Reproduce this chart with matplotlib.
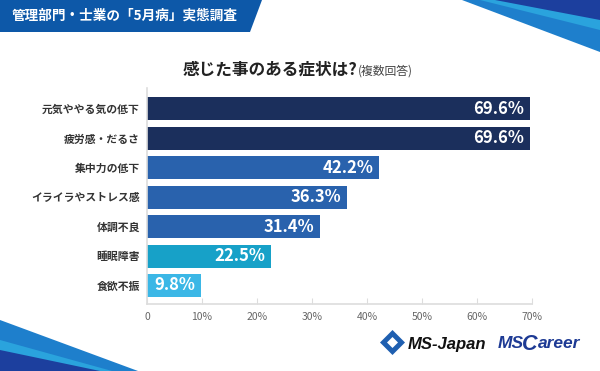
import matplotlib
matplotlib.use("Agg")
from matplotlib import pyplot as plt
from matplotlib.patches import Polygon

plt.rcParams['font.family'] = ['Noto Sans CJK JP', 'DejaVu Sans']

# data
symptoms = ['元気ややる気の低下', '疲労感・だるさ', '集中力の低下', 'イライラやストレス感',
            '体調不良', '睡眠障害', '食欲不振']
percent = [69.6, 69.6, 42.2, 36.3, 31.4, 22.5, 9.8]
bar_colors = ['#1b2f5c', '#1b2f5c', '#2962ad', '#2962ad', '#2962ad', '#17a1c8', '#3bb7e6']
xticks = [0, 10, 20, 30, 40, 50, 60, 70]
xtick_labels = ['0', '10%', '20%', '30%', '40%', '50%', '60%', '70%']

W, H = 600, 371
fig = plt.figure(figsize=(6, 3.71), dpi=100)
fig.patch.set_facecolor('white')

def px(x, y):
    return (x / W, 1 - y / H)

def poly(points, color):
    fig.patches.append(Polygon([px(*p) for p in points], closed=True,
                               transform=fig.transFigure, facecolor=color, edgecolor='none'))

# header banner
poly([(0, 0), (262, 0), (250, 32), (0, 32)], '#0d58a8')
fig.text(12 / W, 1 - 16 / H, '管理部門・士業の「5月病」実態調査', color='white',
         fontsize=9.8, fontweight='bold', va='center', ha='left')

# corner decorations
poly([(462, 0), (600, 0), (600, 52)], '#1e7fcc')
poly([(480, 0), (600, 0), (600, 30)], '#2aa3dd')
poly([(495, 0), (600, 0), (600, 20)], '#1c3f9e')
poly([(0, 320), (138, 371), (0, 371)], '#1e7fcc')
poly([(0, 340), (112, 371), (0, 371)], '#2aa3dd')
poly([(0, 350), (100, 371), (0, 371)], '#1c3f9e')

# title
fig.text(183 / W, 1 - 70 / H, '感じた事のある症状は?', fontsize=12, fontweight='bold',
         color='#222222', ha='left', va='center')
fig.text(358 / W, 1 - 71 / H, '(複数回答)', fontsize=8.5, color='#444444',
         ha='left', va='center')

ax = fig.add_axes([147 / W, 1 - 304 / H, (532 - 147) / W, (304 - 88) / H])
y = list(range(len(symptoms)))
ax.barh(y, percent, height=0.78, color=bar_colors, edgecolor='none')
for yi, v in zip(y, percent):
    ax.text(v - 1.0, yi, f'{v}%', color='white', fontsize=12, fontweight='bold',
            ha='right', va='center')

ax.set_xlim(0, 70)
ax.set_ylim(6.63, -0.71)
ax.set_yticks(y)
ax.set_yticklabels(symptoms, fontsize=7.8, fontweight='bold', color='#333333')
ax.tick_params(axis='y', length=0, pad=5)
ax.set_xticks(xticks)
ax.set_xticklabels(xtick_labels, fontsize=7.5, color='#666666')
ax.tick_params(axis='x', direction='in', length=4, color='#dddddd', pad=6)
for s in ['top', 'right']:
    ax.spines[s].set_visible(False)
for s in ['left', 'bottom']:
    ax.spines[s].set_color('#dddddd')
    ax.spines[s].set_linewidth(1.2)

# logos
poly([(392.5, 330), (405, 342.5), (392.5, 355), (380, 342.5)], '#1f5fb0')
poly([(392.5, 337), (398, 342.5), (392.5, 348), (387, 342.5)], 'white')
fig.text(408 / W, 1 - 344 / H, 'MS-Japan', fontsize=12, fontweight='bold', style='italic',
         color='#111111', ha='left', va='center', family=['Liberation Sans'])
fig.text(498 / W, 1 - 344 / H, 'MS', fontsize=12.5, fontweight='bold', style='italic',
         color='#1d3a94', ha='left', va='center', family=['Liberation Sans'])
c_txt = fig.text(522 / W, 1 - 344 / H, 'C', fontsize=15.5, fontweight='bold', style='italic',
                 color='#1d3a94', ha='left', va='center', family=['Liberation Sans'])
fig.canvas.draw()
c_right = c_txt.get_window_extent().x1 / fig.bbox.width
fig.text(c_right + 0.5 / W, 1 - 344 / H, 'areer', fontsize=12.5, fontweight='bold',
         style='italic', color='#1d3a94', ha='left', va='center', family=['Liberation Sans'])

fig.savefig('out.png', dpi=100)
